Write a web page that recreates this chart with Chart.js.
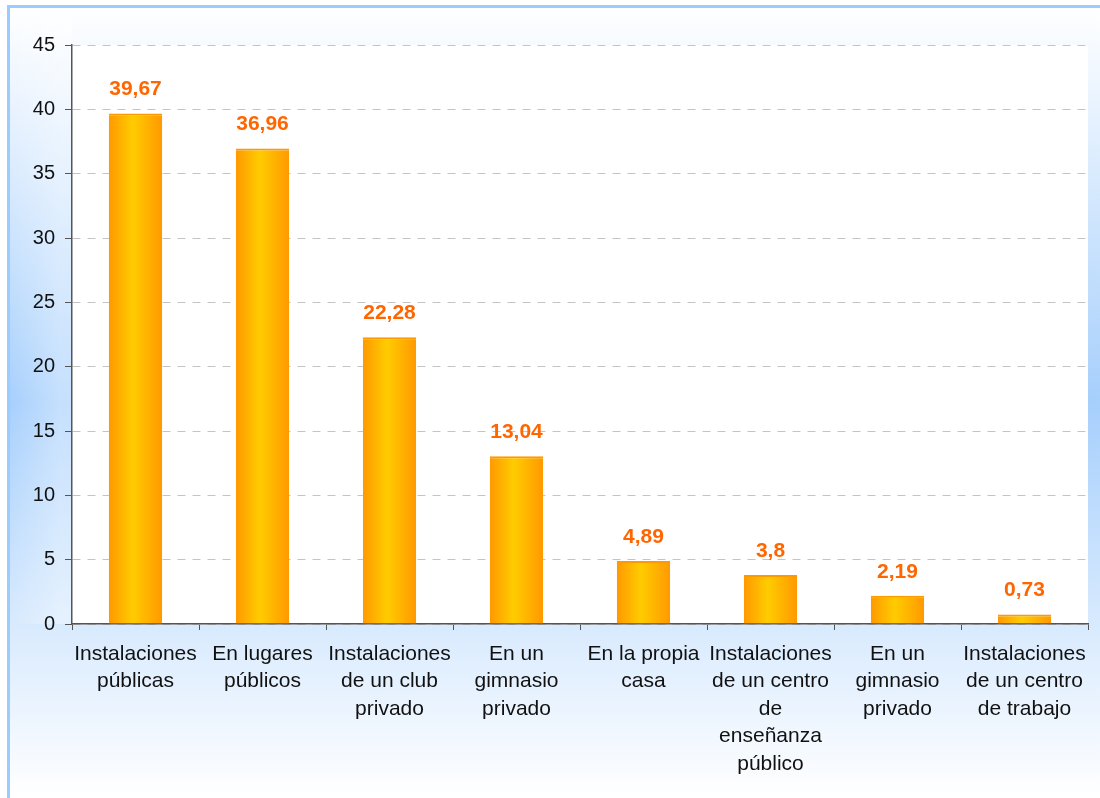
<!DOCTYPE html>
<html>
<head>
<meta charset="utf-8">
<script src="https://cdn.jsdelivr.net/npm/chart.js@4"></script>
<style>
  html, body { margin: 0; padding: 0; background: #fff; }
  #wrap { width: 1100px; height: 798px; }
</style>
</head>
<body>
<div id="wrap"><canvas id="myChart" width="1100" height="798"></canvas></div>
<script>
const categories = [
    ['Instalaciones', 'públicas'],
    ['En lugares', 'públicos'],
    ['Instalaciones', 'de un club', 'privado'],
    ['En un', 'gimnasio', 'privado'],
    ['En la propia', 'casa'],
    ['Instalaciones', 'de un centro', 'de', 'enseñanza', 'público'],
    ['En un', 'gimnasio', 'privado'],
    ['Instalaciones', 'de un centro', 'de trabajo']
];
const values = [39.67, 36.96, 22.28, 13.04, 4.89, 3.8, 2.19, 0.73];
const yTicks = [0, 5, 10, 15, 20, 25, 30, 35, 40, 45];

const fontFam = '"Liberation Sans", Arial, sans-serif';

// background of the chart area + white plot area
const backdrop = {
    id: 'backdrop',
    beforeDraw(chart) {
        const c = chart.ctx;
        const a = chart.chartArea;
        c.save();
        c.fillStyle = '#fff';
        c.fillRect(0, 0, chart.width, chart.height);
        const g = c.createLinearGradient(0, 6, 0, chart.height);
        g.addColorStop(0, '#ffffff');
        g.addColorStop(0.5, '#a6cffc');
        g.addColorStop(1, '#ffffff');
        c.fillStyle = g;
        c.fillRect(8, 6, chart.width - 8, chart.height - 6);
        // lighter near the tick labels
        const g2 = c.createLinearGradient(8, 0, 60, 0);
        g2.addColorStop(0, 'rgba(255,255,255,0)');
        g2.addColorStop(1, 'rgba(255,255,255,0.35)');
        c.fillStyle = g2;
        c.fillRect(10, 8, a.left - 10, a.bottom - 8);
        c.fillStyle = '#ffffff';
        c.fillRect(a.left, a.top, a.right - a.left, a.bottom - a.top);
        c.fillStyle = '#99ccff';
        c.fillRect(8, 5, chart.width - 8, 3);
        c.fillRect(7, 5, 3, chart.height - 5);
        c.restore();
    }
};

// value labels above bars
const valueLabels = {
    id: 'valueLabels',
    afterDatasetsDraw(chart) {
        const c = chart.ctx;
        const meta = chart.getDatasetMeta(0);
        c.save();
        c.font = 'bold 21px ' + fontFam;
        c.fillStyle = '#ff6600';
        c.textAlign = 'center';
        c.textBaseline = 'middle';
        meta.data.forEach((bar, i) => {
            c.fillText(String(values[i]).replace('.', ','), bar.x, bar.y - 24);
        });
        c.restore();
    }
};

function barFill(context) {
    const chart = context.chart;
    if (!chart.chartArea) return '#ffaa00';
    const xs = chart.scales.x;
    const cx = xs.getPixelForValue(context.dataIndex);
    const w = (xs.width / categories.length) * 0.42;
    const g = chart.ctx.createLinearGradient(cx - w / 2, 0, cx + w / 2, 0);
    g.addColorStop(0, '#ff9900');
    g.addColorStop(0.45, '#ffcc00');
    g.addColorStop(1, '#ff9900');
    return g;
}

const ctx = document.getElementById('myChart').getContext('2d');
var myChart = new Chart(ctx, {
    type: 'bar',
    data: {
        labels: categories,
        datasets: [{
            label: 'valores',
            data: values,
            backgroundColor: barFill,
            borderColor: '#ff9900',
            borderWidth: { top: 2, left: 0, right: 0, bottom: 0 },
            borderSkipped: 'bottom',
            categoryPercentage: 1,
            barPercentage: 0.42
        }]
    },
    options: {
        responsive: false,
        animation: false,
        layout: { padding: { top: 45, right: 12, left: 0, bottom: 0 } },
        plugins: {
            legend: { display: false },
            tooltip: { enabled: false }
        },
        scales: {
            x: {
                afterFit(scale) { scale.height = 174; },
                grid: {
                    offset: true,
                    drawOnChartArea: false,
                    drawTicks: true,
                    tickLength: 6,
                    tickColor: '#555'
                },
                border: { display: true, color: '#555', width: 1.5 },
                ticks: {
                    color: '#111',
                    font: { family: fontFam, size: 21, lineHeight: 1.31 },
                    padding: 10,
                    maxRotation: 0,
                    autoSkip: false
                }
            },
            y: {
                min: 0,
                max: 45,
                afterFit(scale) { scale.width = 72; },
                afterBuildTicks(scale) { scale.ticks = yTicks.map(v => ({ value: v })); },
                grid: {
                    color: '#c4c4c4',
                    drawTicks: true,
                    tickLength: 7,
                    tickColor: '#555',
                    tickBorderDash: []
                },
                border: { display: true, color: '#555', width: 1.5, dash: [8, 7] },
                ticks: {
                    color: '#111',
                    font: { family: fontFam, size: 20 },
                    padding: 10,
                    stepSize: 5
                }
            }
        }
    },
    plugins: [backdrop, valueLabels]
});
</script>
</body>
</html>
